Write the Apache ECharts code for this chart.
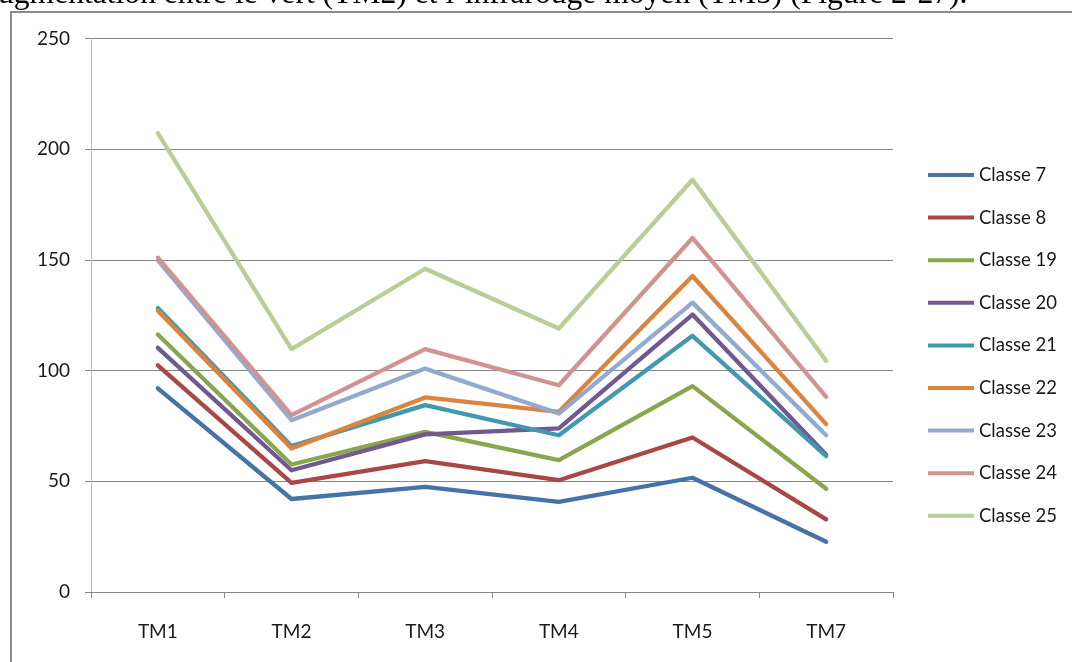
<!DOCTYPE html>
<html><head><meta charset="utf-8">
<script src="https://cdn.jsdelivr.net/npm/echarts@6/dist/echarts.min.js"></script>
<style>html,body{margin:0;padding:0;background:#fff;}#c{width:1072px;height:662px;}</style>
</head><body><div id="c"></div>
<script>
const categories = ['TM1','TM2','TM3','TM4','TM5','TM7'];
const seriesNames = ['Classe 7','Classe 8','Classe 19','Classe 20','Classe 21','Classe 22','Classe 23','Classe 24','Classe 25'];
const classe7  = [92, 42, 47.5, 40.7, 51.6, 22.7];
const classe8  = [102.4, 49.3, 59.1, 50.5, 69.8, 32.8];
const classe19 = [116.3, 57.6, 72.3, 59.6, 93, 46.6];
const classe20 = [110.3, 55, 71.2, 73.9, 125.3, 62];
const classe21 = [128.3, 65.9, 84.4, 70.8, 115.7, 61.4];
const classe22 = [127, 64.8, 87.9, 81.4, 142.7, 75.8];
const classe23 = [149.8, 77.6, 100.9, 80.6, 130.7, 70.8];
const classe24 = [151, 79.9, 109.7, 93.4, 159.9, 88.1];
const classe25 = [207.3, 109.7, 146, 119, 186.2, 104.4];
const yTicks = [0, 50, 100, 150, 200, 250];
const colors = ['#4572A7','#AA4643','#89A54E','#71588F','#4198AF','#DB843D','#93A9CF','#D19392','#B9CD96'];
const captionText = 'ugmentation entre le vert (TM2) et l\u2019infrarouge moyen (TM5) (Figure 2-27).';

const allData = [classe7, classe8, classe19, classe20, classe21, classe22, classe23, classe24, classe25];
const chart = echarts.init(document.getElementById('c'));
chart.setOption({
  animation: false,
  color: colors,
  grid: {left: 91, top: 38.5, width: 802, height: 553.5, containLabel: false},
  graphic: [
    {type: 'rect', shape: {x: 11, y: 12, width: 1100, height: 700}, style: {fill: 'none', stroke: '#8c8c8c', lineWidth: 2}},
    {type: 'text', left: -2, top: -21.5, style: {text: captionText, font: '31.6px "Liberation Serif"', fill: '#000'}}
  ],
  legend: {
    orient: 'vertical', left: 923, top: 159,
    icon: 'rect', itemWidth: 46, itemHeight: 4, itemGap: 20.6,
    textStyle: {fontFamily: 'Lato', fontSize: 18.5, color: '#1a1a1a', lineHeight: 22},
    data: seriesNames
  },
  xAxis: {
    type: 'category', data: categories, boundaryGap: true,
    axisLine: {lineStyle: {color: '#868686', width: 1}},
    axisTick: {show: true, length: 6, inside: false, lineStyle: {color: '#868686'}, alignWithLabel: false},
    axisLabel: {fontFamily: 'Lato', fontSize: 19, color: '#1a1a1a', margin: 30}
  },
  yAxis: {
    type: 'value', min: 0, max: 250, interval: 50,
    axisLine: {show: true, lineStyle: {color: '#bdbdbd', width: 1}},
    axisTick: {show: true, length: 6, lineStyle: {color: '#868686'}},
    splitLine: {lineStyle: {color: '#868686', width: 1}},
    axisLabel: {fontFamily: 'Lato', fontSize: 19, color: '#1a1a1a', margin: 21,
      formatter: v => yTicks.includes(v) ? String(v) : ''}
  },
  series: allData.map((d, i) => ({
    name: seriesNames[i], type: 'line', data: d, symbol: 'none',
    lineStyle: {width: 4.3, color: colors[i], cap: 'round', join: 'round'},
    itemStyle: {color: colors[i]}
  }))
});
</script></body></html>
